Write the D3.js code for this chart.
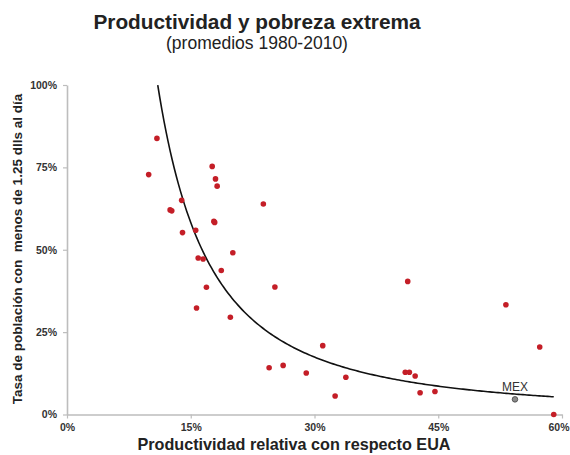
<!DOCTYPE html>
<html>
<head>
<meta charset="utf-8">
<script src="https://cdn.jsdelivr.net/npm/d3@7"></script>
<style>
  body { margin: 0; background: #fff; }
  svg { font-family: "Liberation Sans", Arial, sans-serif; }
</style>
</head>
<body>
<svg id="chart" width="570" height="455"></svg>
<script>
// productividad relativa (% de EUA) y tasa de pobreza extrema (%)
var productividad = [9.9, 10.9, 12.5, 12.7, 13.9, 14.0, 15.6, 15.9, 16.5, 15.7, 16.9,
  17.6, 18.0, 18.2, 17.8, 17.9, 18.7, 19.8, 20.1, 23.8, 25.2, 24.5, 26.2, 29.0,
  31.0, 32.5, 33.8, 41.3, 41.0, 41.5, 42.2, 42.8, 44.6, 53.2, 57.3, 59.0];
var pobreza = [72.8, 83.8, 62.1, 61.8, 65.0, 55.2, 55.9, 47.5, 47.2, 32.3, 38.6,
  75.3, 71.5, 69.3, 58.6, 58.3, 43.7, 29.5, 49.1, 63.9, 38.7, 14.2, 14.9, 12.6,
  20.9, 5.6, 11.3, 40.4, 12.8, 12.8, 11.7, 6.6, 7.0, 33.3, 20.5, 0.0];

var mexico = { label: "MEX", x: 54.3, y: 4.6 };

// linea de tendencia potencial y = a * x^b
var trendA = 6500, trendB = -1.741;
var trendRange = [11.0, 59.0];

var xTicks = [0, 15, 30, 45, 60];
var yTicks = [0, 25, 50, 75, 100];

var svg = d3.select("svg#chart");

var x = d3.scaleLinear().domain([0, 60]).range([67, 562]);
var y = d3.scaleLinear().domain([0, 100]).range([414.5, 85]);

svg.append("text")
  .attr("x", 257).attr("y", 29)
  .attr("text-anchor", "middle")
  .style("font-size", "20.8px").style("font-weight", "bold").style("fill", "#222")
  .text("Productividad y pobreza extrema");

svg.append("text")
  .attr("x", 257).attr("y", 48.5)
  .attr("text-anchor", "middle")
  .style("font-size", "17.5px").style("fill", "#222")
  .text("(promedios 1980-2010)");

var xAxis = d3.axisBottom(x).tickValues(xTicks).tickSize(4).tickSizeOuter(0)
  .tickFormat(function (d) { return d + "%"; });
var yAxis = d3.axisLeft(y).tickValues(yTicks).tickSize(4).tickSizeOuter(0)
  .tickFormat(function (d) { return d + "%"; });

function styleAxis(g) {
  g.select(".domain").attr("stroke", "#bdbdbd").attr("stroke-width", 1.6);
  g.selectAll(".tick line").attr("stroke", "#bdbdbd").attr("stroke-width", 1.2);
  g.selectAll(".tick text")
    .style("font-family", "'Liberation Sans', Arial, sans-serif")
    .style("font-size", "10.5px").style("font-weight", "bold").style("fill", "#333");
}

var gx = svg.append("g")
  .attr("transform", "translate(0," + y(0) + ")")
  .call(xAxis)
  .call(styleAxis);
gx.selectAll(".tick text").attr("dy", "0.95em");
// last label sits at the right edge; keep it inside the page
gx.selectAll(".tick text").filter(function (d) { return d === 60; })
  .attr("text-anchor", "end").attr("x", 7);

svg.append("g")
  .attr("transform", "translate(" + x(0) + ",0)")
  .call(yAxis)
  .call(styleAxis)
  .selectAll(".tick text").attr("x", -10);

// trend curve
var curvePts = d3.range(trendRange[0], trendRange[1] + 0.01, 0.25).map(function (v) {
  return [v, Math.min(100, trendA * Math.pow(v, trendB))];
});

svg.append("path")
  .datum(curvePts)
  .attr("fill", "none")
  .attr("stroke", "#111")
  .attr("stroke-width", 1.6)
  .attr("d", d3.line()
    .x(function (d) { return x(d[0]); })
    .y(function (d) { return y(d[1]); }));

var points = productividad.map(function (v, i) { return { x: v, y: pobreza[i] }; });

svg.selectAll("circle.pais")
  .data(points)
  .enter().append("circle")
  .attr("class", "pais")
  .attr("cx", function (d) { return x(d.x); })
  .attr("cy", function (d) { return y(d.y); })
  .attr("r", 2.8)
  .style("fill", "#c41e27");

svg.append("circle")
  .attr("cx", x(mexico.x))
  .attr("cy", y(mexico.y))
  .attr("r", 2.8)
  .style("fill", "#8a8a8a")
  .style("stroke", "#444")
  .style("stroke-width", 0.8);

svg.append("text")
  .attr("x", x(mexico.x)).attr("y", y(mexico.y) - 8)
  .attr("text-anchor", "middle")
  .style("font-size", "12px").style("fill", "#333")
  .text(mexico.label);

svg.append("text")
  .attr("x", 294).attr("y", 450)
  .attr("text-anchor", "middle")
  .style("font-size", "16.2px").style("font-weight", "bold").style("fill", "#222")
  .text("Productividad relativa con respecto EUA");

svg.append("text")
  .attr("transform", "translate(22,249) rotate(-90)")
  .attr("text-anchor", "middle")
  .style("font-size", "13.5px").style("font-weight", "bold").style("fill", "#222")
  .style("white-space", "pre")
  .text("Tasa de población con  menos de 1.25 dlls al día");
</script>
</body>
</html>
